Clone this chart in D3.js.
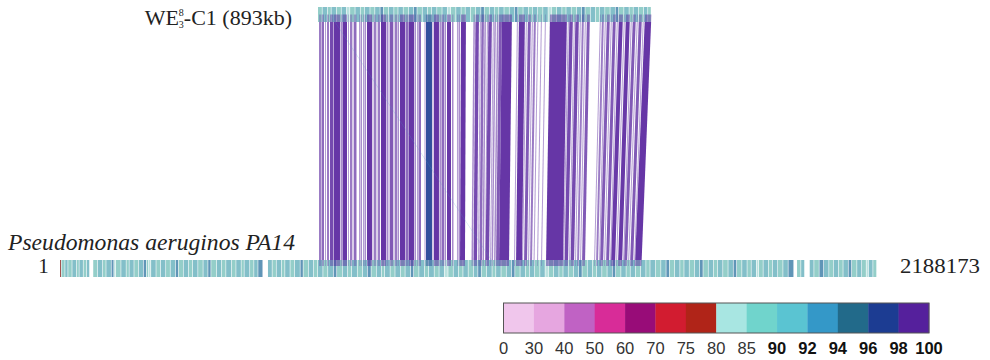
<!DOCTYPE html>
<html>
<head>
<meta charset="utf-8">
<script src="https://cdn.jsdelivr.net/npm/d3@7"></script>
<style>
  body { margin: 0; background: #fff; }
  svg { display: block; }
</style>
</head>
<body>
<div id="chart"></div>
<script>
// genome sizes (kb) and where the query is laid along the reference axis
const refLengthKb = 2188.173;
const refLengthLabel = "2188173";
const queryLengthKb = 893;
const queryOffsetKb = 691;
const queryName = { base: "WE", sub: "3", sup: "8", rest: "-C1 (893kb)" };
const refName = "Pseudomonas aeruginos PA14";

// identity legend
const identityBreaks = [0, 30, 40, 50, 60, 70, 75, 80, 85, 90, 92, 94, 96, 98, 100];
const identityColors = ["#f0c6ec", "#e6a6e0", "#c062c4", "#d82c98", "#980c78", "#d21c30", "#b02418",
  "#a8e6e2", "#70d4cc", "#5ac4d2", "#3498c8", "#226a8a", "#1c3c92", "#55209c"];
const boldFrom = 90;

// BLAST hits: [query start, query end, ref start, ref end, identity] (kb)
const hits = [
  [2.7, 8.0, 693.7, 699.0, 99.2], [9.4, 16.1, 700.4, 707.1, 99.5], [18.7, 21.4, 709.7, 712.4, 99.1],
  [24.1, 29.5, 715.1, 720.5, 99.4], [32.1, 41.5, 723.1, 732.5, 99.6], [42.8, 58.9, 733.8, 749.9, 99.7],
  [60.3, 64.3, 751.3, 755.3, 99.3], [65.6, 77.7, 756.6, 768.7, 99.5], [80.3, 83.0, 771.3, 774.0, 98.6],
  [85.7, 91.1, 776.7, 782.1, 99.2], [92.4, 95.1, 783.4, 786.1, 99.0], [96.4, 103.1, 787.4, 794.1, 99.4],
  [109.8, 112.5, 800.8, 803.5, 99.1], [113.8, 117.8, 804.8, 808.8, 99.3], [120.5, 123.2, 811.5, 814.2, 99.0],
  [124.5, 128.5, 815.5, 819.5, 99.2], [131.2, 144.6, 822.2, 835.6, 99.8], [146.0, 148.6, 837.0, 839.6, 99.0],
  [150.0, 155.3, 841.0, 846.3, 99.3], [156.7, 159.3, 847.7, 850.3, 98.9], [160.7, 166.0, 851.7, 857.0, 99.4],
  [168.7, 182.1, 859.7, 873.1, 99.7], [183.4, 187.5, 874.4, 878.5, 99.2], [188.8, 191.5, 879.8, 882.5, 99.0],
  [192.8, 200.9, 883.8, 891.9, 99.5], [202.2, 204.9, 893.2, 895.9, 98.8], [206.2, 211.6, 897.2, 902.6, 99.3],
  [212.9, 216.9, 903.9, 907.9, 99.1], [219.6, 233.0, 910.6, 924.0, 99.7], [234.3, 241.0, 925.3, 932.0, 99.4],
  [242.4, 257.1, 933.4, 948.1, 99.8], [258.4, 262.4, 949.4, 953.4, 99.2], [265.1, 267.8, 956.1, 958.8, 98.9],
  [269.1, 275.8, 960.1, 966.8, 99.3], [285.2, 287.9, 976.2, 978.9, 98.7], [289.2, 305.3, 980.2, 996.3, 97.1],
  [306.6, 309.3, 997.6, 1000.3, 99.0], [310.6, 324.0, 1001.6, 1015.0, 99.6], [325.4, 329.4, 1016.4, 1020.4, 99.1],
  [330.7, 337.4, 1021.7, 1028.4, 99.4], [338.8, 342.8, 1029.8, 1033.8, 99.2], [345.5, 356.2, 1036.5, 1047.2, 99.7],
  [358.9, 362.9, 1049.9, 1053.9, 99.1], [372.2, 374.9, 1063.2, 1065.9, 98.8], [376.3, 380.3, 1067.3, 1071.3, 99.2],
  [383.0, 396.3, 1071.3, 1084.6, 99.7], [416.4, 420.4, 1102.0, 1106.0, 99.3], [421.8, 431.2, 1107.4, 1116.8, 99.6],
  [433.8, 436.5, 1119.4, 1122.1, 98.9], [437.8, 444.5, 1123.4, 1130.1, 99.4], [445.9, 449.9, 1131.5, 1135.5, 99.1],
  [452.6, 455.3, 1138.2, 1140.9, 98.8], [456.6, 466.0, 1139.6, 1149.0, 99.5], [468.7, 471.3, 1151.7, 1154.3, 99.0],
  [472.7, 476.7, 1155.7, 1159.7, 99.2], [479.4, 483.4, 1162.4, 1166.4, 98.9], [484.7, 492.8, 1167.7, 1175.8, 99.4],
  [492.8, 519.5, 1175.8, 1202.5, 99.8], [532.9, 535.6, 1215.9, 1218.6, 99.0], [538.3, 554.3, 1221.3, 1237.3, 99.5],
  [557.0, 559.7, 1237.3, 1240.0, 98.9], [562.4, 570.4, 1242.7, 1250.7, 99.3], [573.1, 575.8, 1253.4, 1256.1, 99.0],
  [578.4, 583.8, 1258.7, 1264.1, 99.2], [587.8, 590.5, 1268.1, 1270.8, 98.8], [597.2, 599.9, 1277.5, 1280.2, 98.9],
  [607.9, 610.6, 1288.2, 1290.9, 99.0], [621.3, 666.8, 1301.6, 1347.1, 99.8], [669.5, 672.2, 1347.1, 1349.8, 99.0],
  [673.5, 682.9, 1351.1, 1360.5, 99.4], [685.6, 688.2, 1363.2, 1365.8, 98.9], [689.6, 699.0, 1367.2, 1376.6, 99.5],
  [701.6, 704.3, 1379.2, 1381.9, 99.0], [707.0, 712.3, 1384.6, 1389.9, 99.3], [715.0, 717.7, 1392.6, 1395.3, 98.8],
  [720.4, 728.4, 1398.0, 1406.0, 99.4], [755.2, 757.9, 1430.1, 1432.8, 98.9], [760.6, 765.9, 1435.5, 1440.8, 99.3],
  [768.6, 771.3, 1443.5, 1446.2, 99.0], [774.0, 782.0, 1446.3, 1454.3, 99.4], [784.7, 787.3, 1457.0, 1459.6, 98.9],
  [790.0, 798.0, 1462.3, 1470.3, 99.5], [800.7, 803.4, 1473.0, 1475.7, 99.0], [806.1, 816.8, 1475.7, 1486.4, 99.7],
  [819.5, 822.2, 1489.1, 1491.8, 98.9], [824.8, 835.6, 1494.4, 1505.2, 99.4], [838.2, 840.9, 1507.8, 1510.5, 99.0],
  [843.6, 851.6, 1510.5, 1518.5, 99.3], [854.3, 857.0, 1521.2, 1523.9, 98.8], [859.7, 867.7, 1526.6, 1534.6, 99.5],
  [870.4, 873.0, 1537.3, 1539.9, 99.0], [875.7, 893.0, 1539.9, 1557.2, 99.6],
  [32.0, 33.0, 1165.0, 1166.0, 93.0]
];

// coloured blocks of the query genome: [start, end, identity] (kb)
const queryBlocks = [
  [0, 12, 88], [12, 26, 91], [26, 36, 86], [36, 50, 90.5], [50, 63, 88], [63, 77, 91], [77, 86, 82],
  [86, 100, 88], [100, 114, 90.5], [114, 125, 87], [125, 140, 91], [140, 153, 88], [153, 167, 90.5],
  [167, 176, 93], [176, 190, 88], [190, 204, 91], [204, 215, 86], [215, 229, 90.5], [229, 243, 88],
  [243, 257, 91], [257, 266, 93], [266, 280, 88], [280, 294, 90.5], [294, 305, 87], [305, 319, 91],
  [319, 333, 88], [333, 347, 90.5], [347, 356, 82], [356, 370, 88], [370, 384, 91], [384, 395, 86],
  [395, 409, 90.5], [409, 423, 88], [423, 437, 91], [437, 446, 93], [446, 460, 88], [460, 474, 90.5],
  [474, 485, 87], [485, 499, 91], [499, 513, 88], [513, 527, 90.5], [527, 536, 93], [536, 550, 88],
  [550, 564, 91], [564, 575, 86], [575, 589, 90.5], [589, 603, 88], [603, 617, 91], [617, 626, 82],
  [626, 640, 88], [640, 654, 90.5], [654, 665, 87], [665, 679, 91], [679, 693, 88], [693, 707, 90.5],
  [707, 716, 93], [716, 730, 88], [730, 744, 91], [744, 755, 86], [755, 769, 90.5], [769, 783, 88],
  [783, 797, 91], [797, 806, 93], [806, 820, 88], [820, 834, 90.5], [834, 845, 87], [845, 859, 91],
  [859, 873, 88], [873, 884, 90.5], [884, 893, 86]
];

// coloured blocks of the reference genome: [start, end, identity] (kb)
const refBlocks = [
  [0, 4, 77], [4, 14, 88], [14, 22, 91], [22, 33, 87], [33, 45, 91], [45, 52, 86], [52, 63, 90.5],
  [63, 72, 88], [72, 80, 91],
  [89, 101, 88], [101, 115, 91], [115, 124, 87], [124, 138, 90.5], [138, 145, 93], [145, 150, 82],
  [150, 164, 88], [164, 178, 91], [178, 186, 86], [186, 199, 90.5], [199, 211, 88], [211, 224, 91],
  [224, 232, 93], [232, 238, 86], [238, 244, 82], [244, 258, 90.5], [258, 270, 88], [270, 284, 91],
  [284, 296, 87], [296, 310, 90.5], [310, 318, 93], [318, 331, 88], [331, 345, 91], [345, 356, 86],
  [356, 370, 90.5], [370, 384, 88], [384, 397, 91], [397, 405, 93], [405, 420, 88], [420, 433, 90.5],
  [433, 445, 86], [445, 460, 91], [460, 472, 88], [472, 486, 90.5], [486, 494, 87], [494, 509, 91],
  [509, 520, 88], [520, 531, 90.5], [531, 544, 93],
  [557, 569, 91], [569, 580, 88], [580, 594, 90.5], [594, 603, 86], [603, 617, 91], [617, 629, 88],
  [629, 644, 90.5], [644, 652, 93], [652, 666, 88], [666, 680, 91], [680, 691, 87], [691, 705, 90.5],
  [705, 718, 88], [718, 733, 91], [733, 742, 93], [742, 757, 88], [757, 771, 90.5], [771, 782, 86],
  [782, 797, 91], [797, 811, 88], [811, 824, 90.5], [824, 834, 93], [834, 848, 88], [848, 862, 91],
  [862, 870, 86], [870, 885, 90.5], [885, 898, 88], [898, 913, 91], [913, 925, 87], [925, 940, 90.5],
  [940, 948, 93], [948, 962, 88], [962, 977, 91], [977, 988, 86], [988, 1003, 90.5], [1003, 1016, 88],
  [1016, 1030, 91], [1030, 1040, 82], [1040, 1054, 88], [1054, 1068, 90.5], [1068, 1080, 87],
  [1080, 1094, 91], [1094, 1108, 88], [1108, 1120, 90.5], [1120, 1129, 93], [1129, 1143, 88],
  [1143, 1158, 91], [1158, 1168, 86], [1168, 1182, 90.5], [1182, 1196, 88], [1196, 1210, 91],
  [1210, 1219, 93], [1219, 1233, 88], [1233, 1247, 90.5], [1247, 1258, 87], [1258, 1272, 91],
  [1272, 1286, 88], [1286, 1300, 90.5], [1300, 1309, 82], [1309, 1323, 88], [1323, 1337, 91],
  [1337, 1348, 86], [1348, 1362, 90.5], [1362, 1376, 88], [1376, 1390, 91], [1390, 1399, 93],
  [1399, 1413, 88], [1413, 1427, 90.5], [1427, 1438, 87], [1438, 1452, 91], [1452, 1466, 88],
  [1466, 1480, 90.5], [1480, 1489, 93], [1489, 1503, 88], [1503, 1517, 91], [1517, 1528, 86],
  [1528, 1542, 90.5], [1542, 1556, 88], [1556, 1570, 91], [1570, 1581, 87], [1581, 1596, 90.5],
  [1596, 1610, 88], [1610, 1624, 91], [1624, 1633, 93], [1633, 1647, 88], [1647, 1661, 90.5],
  [1661, 1672, 86], [1672, 1686, 91], [1686, 1700, 88], [1700, 1714, 90.5], [1714, 1723, 93],
  [1723, 1737, 88], [1737, 1751, 91], [1751, 1762, 87], [1762, 1776, 90.5], [1776, 1790, 88],
  [1790, 1804, 91], [1804, 1813, 93], [1813, 1827, 88], [1827, 1841, 90.5], [1841, 1852, 86],
  [1852, 1866, 91], [1866, 1872, 82], [1872, 1884, 88], [1884, 1898, 90.5], [1898, 1909, 87],
  [1909, 1923, 91], [1923, 1937, 88], [1937, 1951, 90.5], [1951, 1966, 93],
  [1974, 1985, 88], [1985, 1995, 91],
  [2008, 2020, 90.5], [2020, 2034, 88], [2034, 2046, 93], [2046, 2060, 91], [2060, 2072, 87],
  [2072, 2086, 90.5], [2086, 2098, 88], [2098, 2112, 91], [2112, 2121, 93], [2121, 2135, 88],
  [2135, 2148, 90.5], [2148, 2160, 86], [2160, 2166, 82], [2166, 2178, 91], [2178, 2188, 88]
];

const width = 990, height = 360;
const serif = "'Liberation Serif', 'Times New Roman', serif";
const sans = "'Liberation Sans', Arial, sans-serif";

const svg = d3.select("#chart").append("svg")
  .attr("width", width)
  .attr("height", height);
svg.append("rect").attr("width", width).attr("height", height).attr("fill", "#fff");
const defs = svg.append("defs");

// one kb axis for both genomes
const x = d3.scaleLinear().domain([0, refLengthKb]).range([60, 877]);
const xq = kb => x(queryOffsetKb + kb);
const color = d3.scaleThreshold().domain(identityBreaks.slice(1, -1)).range(identityColors);
// thin hits look faint once drawn at this size
const ribbonAlpha = d3.scaleLinear().domain([2.5, 11]).range([0.48, 1]).clamp(true);

const queryBar = { y: 7, h: 15 };
const refBar = { y: 260, h: 17 };
const ribbonTop = queryBar.y + queryBar.h / 2;
const ribbonBottom = refBar.y + 6;

// muted teal for the genome bars
const muted = defs.append("filter").attr("id", "muted");
muted.append("feColorMatrix").attr("type", "saturate").attr("values", 0.65);

function drawBlocks(g, data, pos, bar) {
  g.attr("filter", "url(#muted)")
    .selectAll("rect")
    .data(data)
    .join("rect")
    .attr("x", d => pos(d[0]))
    .attr("y", bar.y)
    .attr("width", d => Math.max(0.3, pos(d[1]) - pos(d[0]) - 0.6))
    .attr("height", bar.h)
    .attr("fill", d => color(d[2]));
}
drawBlocks(svg.append("g"), queryBlocks, xq, queryBar);
drawBlocks(svg.append("g"), refBlocks, x, refBar);

// ribbons are lighter where they lie over the bars
const mask = defs.append("mask").attr("id", "ribbonMask");
mask.append("rect").attr("x", 0).attr("y", 0).attr("width", width).attr("height", queryBar.y + queryBar.h)
  .attr("fill", "#fff").attr("fill-opacity", 0.45);
mask.append("rect").attr("x", 0).attr("y", queryBar.y + queryBar.h).attr("width", width)
  .attr("height", refBar.y - queryBar.y - queryBar.h).attr("fill", "#fff").attr("fill-opacity", 0.9);
mask.append("rect").attr("x", 0).attr("y", refBar.y).attr("width", width).attr("height", height - refBar.y)
  .attr("fill", "#fff").attr("fill-opacity", 0.45);

svg.append("g")
  .attr("mask", "url(#ribbonMask)")
  .selectAll("path")
  .data(hits)
  .join("path")
  .attr("d", d => `M${xq(d[0])},${ribbonTop}L${xq(d[1])},${ribbonTop}L${x(d[3])},${ribbonBottom}L${x(d[2])},${ribbonBottom}Z`)
  .attr("fill", d => color(d[4]))
  .attr("fill-opacity", d => ribbonAlpha(d[1] - d[0]));

// labels
const qLabel = svg.append("text")
  .attr("x", 292).attr("y", 25)
  .attr("text-anchor", "end")
  .attr("font-family", serif)
  .attr("font-size", 22)
  .attr("fill", "#222");
qLabel.append("tspan").text(queryName.base);
qLabel.append("tspan").attr("font-size", 10).attr("dy", 3).text(queryName.sub);
qLabel.append("tspan").attr("font-size", 10).attr("dx", -5).attr("dy", -12).text(queryName.sup);
qLabel.append("tspan").attr("dy", 9).text(queryName.rest);

svg.append("text")
  .attr("x", 8).attr("y", 250)
  .attr("font-family", serif)
  .attr("font-style", "italic")
  .attr("font-size", 24)
  .attr("textLength", 287)
  .attr("lengthAdjust", "spacingAndGlyphs")
  .attr("fill", "#222")
  .text(refName);

svg.append("text")
  .attr("x", 43.5).attr("y", 273)
  .attr("text-anchor", "middle")
  .attr("font-family", serif)
  .attr("font-size", 21)
  .attr("fill", "#222")
  .text("1");

svg.append("text")
  .attr("x", 900).attr("y", 273)
  .attr("font-family", serif)
  .attr("font-size", 22)
  .attr("textLength", 80)
  .attr("lengthAdjust", "spacingAndGlyphs")
  .attr("fill", "#222")
  .text(refLengthLabel);

// legend
const lx = d3.scalePoint().domain(identityBreaks).range([503.5, 929]);
const legend = svg.append("g");
legend.selectAll("rect.cell")
  .data(identityColors)
  .join("rect")
  .attr("class", "cell")
  .attr("x", (c, i) => lx(identityBreaks[i]))
  .attr("y", 303)
  .attr("width", (c, i) => lx(identityBreaks[i + 1]) - lx(identityBreaks[i]) + 0.3)
  .attr("height", 30)
  .attr("fill", c => c);
legend.append("rect")
  .attr("x", lx(0)).attr("y", 303)
  .attr("width", lx(100) - lx(0)).attr("height", 30)
  .attr("fill", "none")
  .attr("stroke", "#555")
  .attr("stroke-width", 1);
legend.selectAll("text")
  .data(identityBreaks)
  .join("text")
  .attr("x", d => lx(d))
  .attr("y", 354)
  .attr("text-anchor", "middle")
  .attr("font-family", sans)
  .attr("font-size", 16.5)
  .attr("font-weight", d => d >= boldFrom ? "bold" : "normal")
  .attr("fill", d => d >= boldFrom ? "#111" : "#333")
  .text(d => d);
</script>
</body>
</html>
